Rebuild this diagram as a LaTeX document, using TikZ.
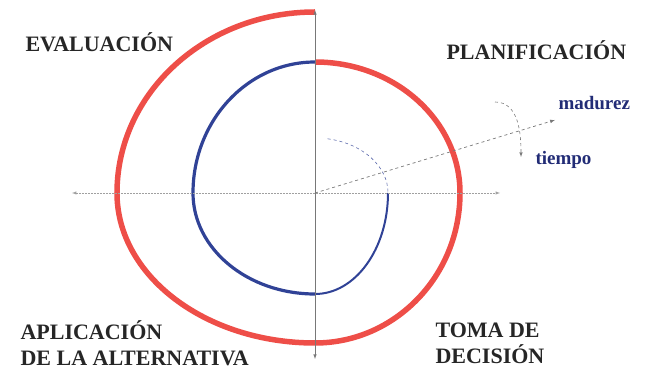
\documentclass[tikz,border=0pt]{standalone}
\usepackage{fontspec}
\setmainfont{Liberation Serif}
\usepackage{xcolor}
\usetikzlibrary{arrows}
\usetikzlibrary{math}
\definecolor{myred}{RGB}{238, 78, 72}
\definecolor{myblue}{RGB}{48, 66, 150}
\definecolor{mynavy}{RGB}{34, 44, 118}
\definecolor{myaxis}{RGB}{120, 120, 120}

\tikzset{
 phase/.style={anchor=west, align=left, font=\fontsize{22}{26}\selectfont\bfseries, text=black!85},
 bluelabel/.style={anchor=west, font=\fontsize{19}{22}\selectfont\bfseries, text=mynavy},
}

\begin{document}
\begin{tikzpicture}[x=1pt, y=1pt]
\tikzmath{
\rb=3.2;
\rr=5.5;
}
\useasboundingbox (-315,-178) rectangle (332,193);

 \coordinate (O) at (0,0);
 \coordinate (Top) at (0,183);
 \coordinate (Bot) at (0,-166);
 \coordinate (Lft) at (-243,0);
 \coordinate (Rgt) at (185,0);
 \coordinate (Mad) at (240,73); %madurez direction
 \coordinate (T1) at (180,91);
 \coordinate (T2) at (206,36);

 %spiral, blue part
 \draw[myblue!80, line width=0.6pt, dashed] (12.7,54.2) arc[start angle=80, end angle=0, x radius=73pt, y radius=55pt];
 \draw[myblue, line width=2pt] (73,0) arc[start angle=0, end angle=-90, x radius=73pt, y radius=101pt];
 \draw[myblue, line width=\rb pt] (0,-101) arc[start angle=270, end angle=180, x radius=122pt, y radius=101pt]
  arc[start angle=180, end angle=90, x radius=122pt, y radius=131pt];

 %spiral, red part
 \draw[myred, line width=\rr pt] (0,131) arc[start angle=90, end angle=0, x radius=145pt, y radius=131pt]
  arc[start angle=0, end angle=-90, x radius=145pt, y radius=150pt]
  arc[start angle=270, end angle=180, x radius=198pt, y radius=150pt]
  arc[start angle=180, end angle=90, x radius=198pt, y radius=181pt];

 %axes
 \draw[latex-latex, myaxis, line width=0.6pt] (Bot) -- (Top);
 \draw[latex-latex, myaxis!70, line width=0.5pt, densely dotted] (Lft) -- (Rgt);
 \draw[-latex, myaxis, line width=0.7pt, dashed] (O) -- (Mad);
 \draw[-latex, myaxis, line width=0.6pt, dashed] (T1) to[out=0, in=90] (T2);

 %labels
 \node[phase] (evaluacion) at (-293,151) {EVALUACIÓN};
 \node[phase] (planificacion) at (128,143) {PLANIFICACIÓN};
 \node[phase] (aplicacion) at (-298,-150) {APLICACIÓN\\DE LA ALTERNATIVA};
 \node[phase] (toma) at (117,-150) {TOMA DE\\DECISIÓN};
 \node[bluelabel] (madurez) at (240,90) {madurez};
 \node[bluelabel] (tiempo) at (217,33) {tiempo};

\end{tikzpicture}
\end{document}
